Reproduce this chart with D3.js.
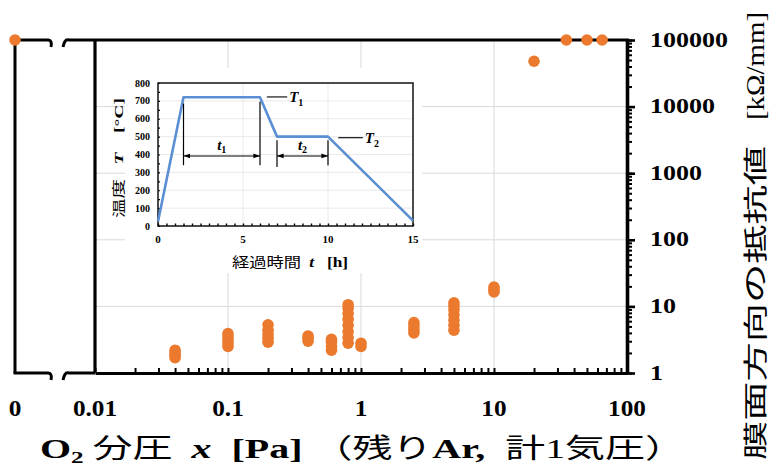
<!DOCTYPE html>
<html>
<head>
<meta charset="utf-8">
<script src="https://cdn.jsdelivr.net/npm/d3@7"></script>
<style>
  html, body { margin: 0; padding: 0; background: #fff; }
  svg { display: block; }
  text { white-space: pre; }
</style>
</head>
<body>
<svg id="chart" width="773" height="470"></svg>
<script>
// ── Data: main chart (O2 partial pressure vs. in-plane resistance) ──────────
const zeroPressure   = [0];
const zeroResistance = [100000];

const o2Pressure = [0.04, 0.1, 0.2, 0.4, 0.6, 0.8, 1, 2.5, 5, 10, 20, 35, 50, 65];
const resistance = [
  [1.7, 1.85, 2.0, 2.2],
  [2.5, 2.8, 3.1, 3.5, 3.9],
  [2.9, 3.3, 3.8, 4.4, 5.3],
  [3.0, 3.3, 3.6],
  [2.2, 2.5, 2.9, 3.2],
  [2.8, 3.4, 4.2, 5.2, 6.4, 7.8, 9.4, 10.6],
  [2.5, 2.8],
  [4.0, 4.5, 5.1, 5.7],
  [4.4, 5.2, 6.2, 7.4, 8.8, 10.2, 11.3],
  [16.5, 18, 19.5],
  [48000],
  [100000],
  [100000],
  [100000],
];

const xTickValues = [0.01, 0.1, 1, 10, 100];
const xTickLabels = ['0.01', '0.1', '1', '10', '100'];
const zeroTickLabel = '0';
const yTickValues = [1, 10, 100, 1000, 10000, 100000];
const yTickLabels = ['1', '10', '100', '1000', '10000', '100000'];

// ── Data: inset (heat-treatment profile) ─────────────────────────────────────
const elapsedH = [0, 1.5, 6, 7, 10, 15];
const tempC    = [25, 720, 720, 500, 500, 30];
const insetXTicks = [0, 5, 10, 15];
const insetYTicks = [0, 100, 200, 300, 400, 500, 600, 700, 800];

const spanMarkers = [
  { t: 1.5, top: 685, bottom: 340 },
  { t: 6,   top: 695, bottom: 340 },
  { t: 7,   top: 480, bottom: 330 },
  { t: 10,  top: 480, bottom: 340 },
];
const spanArrows = [
  { from: 1.5, to: 6,  at: 392, label: 't', sub: '1' },
  { from: 7,   to: 10, at: 392, label: 't', sub: '2' },
];
const holdLabels = [
  { from: 6.4,  to: 7.6,   at: 722, label: 'T', sub: '1' },
  { from: 10.6, to: 12.05, at: 494, label: 'T', sub: '2' },
];

// ── Setup ────────────────────────────────────────────────────────────────────
const SERIF = '"Liberation Serif", "DejaVu Serif", serif';
const CJK = '"Noto Sans CJK JP", "Noto Sans CJK SC", sans-serif';
const ORANGE = '#EC7A2E';
const GRID = '#d9d9d9';

const svg = d3.select('#chart');

const box = { left: 95, right: 627, top: 40, bottom: 373, zeroX: 15 };

const x = d3.scaleLog().domain([0.01, 100]).range([box.left, box.right]);
const xZero = d3.scaleOrdinal().domain(zeroPressure).range([box.zeroX]);
const y = d3.scaleLog().domain([1, 100000]).range([box.bottom, box.top]);

const minorY = [];
yTickValues.slice(0, -1).forEach((d) => { for (let k = 1; k < 10; k++) minorY.push(d * k); });
minorY.push(100000);
const minorX = [];
xTickValues.slice(0, -1).forEach((d) => { for (let k = 1; k < 10; k++) minorX.push(d * k); });
minorX.push(100);

// helper: text squeezed/stretched horizontally
function stretched(parent, px, py, sx, anchor) {
  return parent.append('g')
    .attr('transform', `translate(${px},${py}) scale(${sx},1)`)
    .append('text')
    .attr('text-anchor', anchor);
}

// ── Gridlines ────────────────────────────────────────────────────────────────
const grid = svg.append('g');
grid.selectAll('.hg')
  .data(yTickValues.slice(1, -1))
  .join('line')
  .attr('x1', box.left).attr('x2', box.right)
  .attr('y1', (d) => y(d)).attr('y2', (d) => y(d))
  .attr('stroke', GRID).attr('stroke-width', 1);
grid.selectAll('.vg')
  .data(xTickValues.slice(1, -1))
  .join('line')
  .attr('x1', (d) => x(d)).attr('x2', (d) => x(d))
  .attr('y1', box.top).attr('y2', box.bottom)
  .attr('stroke', GRID).attr('stroke-width', 1);

// ── Inset ────────────────────────────────────────────────────────────────────
const inset = svg.append('g');
inset.append('rect')
  .attr('x', 125).attr('y', 68).attr('width', 297).attr('height', 205)
  .attr('fill', '#fff');

const ix = d3.scaleLinear().domain([0, 15]).range([158, 413]);
const iy = d3.scaleLinear().domain([0, 800]).range([226, 83]);

inset.selectAll('.ihg')
  .data(insetYTicks.slice(1, -1))
  .join('line')
  .attr('x1', ix(0)).attr('x2', ix(15))
  .attr('y1', (d) => iy(d)).attr('y2', (d) => iy(d))
  .attr('stroke', '#e4e4e4').attr('stroke-width', 0.8);
inset.selectAll('.ivg')
  .data(insetXTicks.slice(1, -1))
  .join('line')
  .attr('x1', (d) => ix(d)).attr('x2', (d) => ix(d))
  .attr('y1', iy(0)).attr('y2', iy(800))
  .attr('stroke', '#e4e4e4').attr('stroke-width', 0.8);

// small inner ticks
inset.append('g')
  .attr('transform', `translate(0,${iy(0)})`)
  .call(d3.axisBottom(ix).tickValues(d3.range(0, 15.01, 0.5)).tickSize(-2.5).tickFormat(''))
  .call((g) => g.select('.domain').remove())
  .selectAll('line').attr('stroke', '#000').attr('stroke-width', 1.4);
inset.append('g')
  .attr('transform', `translate(${ix(0)},0)`)
  .call(d3.axisLeft(iy).tickValues(d3.range(0, 801, 50)).tickSize(-2).tickFormat(''))
  .call((g) => g.select('.domain').remove())
  .selectAll('line').attr('stroke', '#000').attr('stroke-width', 1.2);

inset.append('rect')
  .attr('x', ix(0)).attr('y', iy(800))
  .attr('width', ix(15) - ix(0)).attr('height', iy(0) - iy(800))
  .attr('fill', 'none').attr('stroke', '#111').attr('stroke-width', 1.5);

// profile line
const profile = elapsedH.map((t, i) => ({ t, T: tempC[i] }));
inset.append('path')
  .datum(profile)
  .attr('fill', 'none')
  .attr('stroke', '#5B8FD3')
  .attr('stroke-width', 2.6)
  .attr('stroke-linejoin', 'round')
  .attr('d', d3.line().x((d) => ix(d.t)).y((d) => iy(d.T)));

// span markers + arrows
inset.append('defs').html(
  '<marker id="ah" viewBox="0 0 10 10" refX="10" refY="5" markerWidth="6" markerHeight="6" orient="auto-start-reverse">' +
  '<path d="M0,1.5 L10,5 L0,8.5 z" fill="#000"/></marker>');
inset.selectAll('.mk')
  .data(spanMarkers)
  .join('line')
  .attr('x1', (d) => ix(d.t)).attr('x2', (d) => ix(d.t))
  .attr('y1', (d) => iy(d.top)).attr('y2', (d) => iy(d.bottom))
  .attr('stroke', '#000').attr('stroke-width', 1.2);
inset.selectAll('.ar')
  .data(spanArrows)
  .join('line')
  .attr('x1', (d) => ix(d.from)).attr('x2', (d) => ix(d.to))
  .attr('y1', (d) => iy(d.at)).attr('y2', (d) => iy(d.at))
  .attr('stroke', '#000').attr('stroke-width', 1.1)
  .attr('marker-start', 'url(#ah)').attr('marker-end', 'url(#ah)');
spanArrows.forEach((d) => {
  const t = inset.append('text')
    .attr('x', ix((d.from + d.to) / 2)).attr('y', iy(d.at) - 6)
    .attr('text-anchor', 'middle')
    .attr('font-family', SERIF).attr('font-weight', 'bold').attr('font-style', 'italic')
    .attr('font-size', 15).text(d.label);
  t.append('tspan').attr('font-size', 10).attr('font-style', 'normal').attr('dy', 3).text(d.sub);
});

holdLabels.forEach((d) => {
  inset.append('line')
    .attr('x1', ix(d.from)).attr('x2', ix(d.to))
    .attr('y1', iy(d.at)).attr('y2', iy(d.at))
    .attr('stroke', '#000').attr('stroke-width', 1.1);
  const t = inset.append('text')
    .attr('x', ix(d.to) + 2).attr('y', iy(d.at) + 5)
    .attr('font-family', SERIF).attr('font-weight', 'bold').attr('font-style', 'italic')
    .attr('font-size', 15).text(d.label);
  t.append('tspan').attr('font-size', 10).attr('font-style', 'normal').attr('dy', 4).text(d.sub);
});

// inset tick labels
inset.selectAll('.iyl')
  .data(insetYTicks)
  .join('text')
  .attr('x', ix(0) - 8).attr('y', (d) => iy(d) + 3.5)
  .attr('text-anchor', 'end')
  .attr('font-family', SERIF).attr('font-weight', 'bold').attr('font-size', 10)
  .text((d) => d);
inset.selectAll('.ixl')
  .data(insetXTicks)
  .join('text')
  .attr('x', (d) => ix(d)).attr('y', iy(0) + 17)
  .attr('text-anchor', 'middle')
  .attr('font-family', SERIF).attr('font-weight', 'bold').attr('font-size', 11)
  .text((d) => d);

// inset titles
const ixt = inset.append('text')
  .attr('x', 290).attr('y', 267)
  .attr('text-anchor', 'middle')
  .attr('textLength', 116).attr('lengthAdjust', 'spacingAndGlyphs')
  .attr('font-size', 14);
ixt.append('tspan').attr('font-family', CJK).text('経過時間 ');
ixt.append('tspan').attr('font-family', SERIF).attr('font-weight', 'bold').attr('font-style', 'italic').text(' t ');
ixt.append('tspan').attr('font-family', SERIF).attr('font-weight', 'bold').text('  [h]');

const iyt = inset.append('text')
  .attr('transform', 'translate(123,158) rotate(-90)')
  .attr('text-anchor', 'middle')
  .attr('textLength', 120).attr('lengthAdjust', 'spacingAndGlyphs')
  .attr('font-size', 13);
iyt.append('tspan').attr('font-family', CJK).text('温度 ');
iyt.append('tspan').attr('font-family', SERIF).attr('font-weight', 'bold').attr('font-style', 'italic').text('  T  ');
iyt.append('tspan').attr('font-family', SERIF).attr('font-weight', 'bold').text('  [°C]');

// ── Axes ─────────────────────────────────────────────────────────────────────
const axes = svg.append('g');

// bottom axis: minor ticks pointing up
axes.append('g')
  .attr('transform', `translate(0,${box.bottom})`)
  .call(d3.axisBottom(x).tickValues(minorX).tickSize(-5).tickSizeOuter(0).tickFormat(''))
  .call((g) => g.select('.domain').attr('stroke', '#000').attr('stroke-width', 3.2))
  .selectAll('line').attr('stroke', '#000').attr('stroke-width', 2);

// right axis: ticks pointing outward
axes.append('g')
  .attr('transform', `translate(${box.right},0)`)
  .call(d3.axisRight(y).tickValues(minorY).tickSize(5).tickSizeOuter(0).tickFormat(''))
  .call((g) => g.select('.domain').attr('stroke', '#000').attr('stroke-width', 3.6))
  .selectAll('line').attr('stroke', '#000').attr('stroke-width', 2);
axes.append('g')
  .attr('transform', `translate(${box.right},0)`)
  .call(d3.axisRight(y).tickValues(yTickValues).tickSize(8).tickFormat(''))
  .call((g) => g.select('.domain').remove())
  .selectAll('line').attr('stroke', '#000').attr('stroke-width', 2.6);

// left axis + top border
axes.append('line')
  .attr('x1', box.left).attr('x2', box.left)
  .attr('y1', box.top).attr('y2', box.bottom)
  .attr('stroke', '#000').attr('stroke-width', 3.2);
axes.append('line')
  .attr('x1', box.left).attr('x2', box.right + 2)
  .attr('y1', box.top).attr('y2', box.top)
  .attr('stroke', '#000').attr('stroke-width', 3.2);

// zero region with axis break
const zx = xZero(0);
const brk = axes.append('g').attr('fill', 'none').attr('stroke', '#000').attr('stroke-width', 3);
brk.append('line').attr('x1', zx).attr('x2', zx).attr('y1', box.top).attr('y2', box.bottom);
[box.top, box.bottom].forEach((yy) => {
  brk.append('path').attr('d', `M${zx - 1.5},${yy} L${zx + 33},${yy} C${zx + 36},${yy} ${zx + 37},${yy + 3} ${zx + 36},${yy + 7}`);
  brk.append('path').attr('d', `M${zx + 48},${yy + 7} C${zx + 49},${yy + 3} ${zx + 50},${yy - 1} ${zx + 54},${yy} L${box.left},${yy}`);
});

// tick labels
yTickValues.forEach((v, i) => {
  stretched(svg, 650, y(v) + 6.5, 1.3, 'start')
    .attr('font-family', SERIF).attr('font-weight', 'bold').attr('font-size', 20)
    .text(yTickLabels[i]);
});
xTickValues.forEach((v, i) => {
  stretched(svg, x(v), 416, 1.1, 'middle')
    .attr('font-family', SERIF).attr('font-weight', 'bold').attr('font-size', 23)
    .text(xTickLabels[i]);
});
stretched(svg, zx, 416, 1.1, 'middle')
  .attr('font-family', SERIF).attr('font-weight', 'bold').attr('font-size', 23)
  .text(zeroTickLabel);

// axis titles
const xt = svg.append('text')
  .attr('x', 40).attr('y', 458)
  .attr('textLength', 645).attr('lengthAdjust', 'spacingAndGlyphs')
  .attr('font-size', 27);
xt.append('tspan').attr('font-family', SERIF).attr('font-weight', 'bold').text('O');
xt.append('tspan').attr('font-family', SERIF).attr('font-weight', 'bold').attr('font-size', 17).attr('dy', 5).text('2');
xt.append('tspan').attr('font-family', CJK).attr('dy', -5).text(' 分圧 ');
xt.append('tspan').attr('font-family', SERIF).attr('font-weight', 'bold').attr('font-style', 'italic').text(' x ');
xt.append('tspan').attr('font-family', SERIF).attr('font-weight', 'bold').text(' [Pa] ');
xt.append('tspan').attr('font-family', CJK).text('（残り');
xt.append('tspan').attr('font-family', SERIF).attr('font-weight', 'bold').text('Ar,  ');
xt.append('tspan').attr('font-family', CJK).text('計');
xt.append('tspan').attr('font-family', SERIF).text('1');
xt.append('tspan').attr('font-family', CJK).text('気圧）');

// right-hand title: CJK part and unit part, rotated to read bottom-up
svg.append('text')
  .attr('transform', 'translate(764,460) rotate(-90)')
  .attr('textLength', 314).attr('lengthAdjust', 'spacingAndGlyphs')
  .attr('font-family', CJK).attr('font-size', 24)
  .text('膜面方向の抵抗値');
svg.append('text')
  .attr('transform', 'translate(764,120) rotate(-90)')
  .attr('textLength', 108).attr('lengthAdjust', 'spacingAndGlyphs')
  .attr('font-family', SERIF).attr('font-size', 25)
  .text('[kΩ/mm]');

// ── Points ───────────────────────────────────────────────────────────────────
const points = [];
o2Pressure.forEach((p, i) => resistance[i].forEach((r) => points.push({ p, r })));
const zeroPoints = zeroPressure.map((p, i) => ({ p, r: zeroResistance[i] }));

const dots = svg.append('g');
dots.selectAll('.pt')
  .data(points)
  .join('circle')
  .attr('cx', (d) => x(d.p))
  .attr('cy', (d) => y(d.r))
  .attr('r', 5.8)
  .attr('fill', ORANGE);
dots.selectAll('.zp')
  .data(zeroPoints)
  .join('circle')
  .attr('cx', (d) => xZero(d.p))
  .attr('cy', (d) => y(d.r))
  .attr('r', 5.8)
  .attr('fill', ORANGE);
</script>
</body>
</html>
